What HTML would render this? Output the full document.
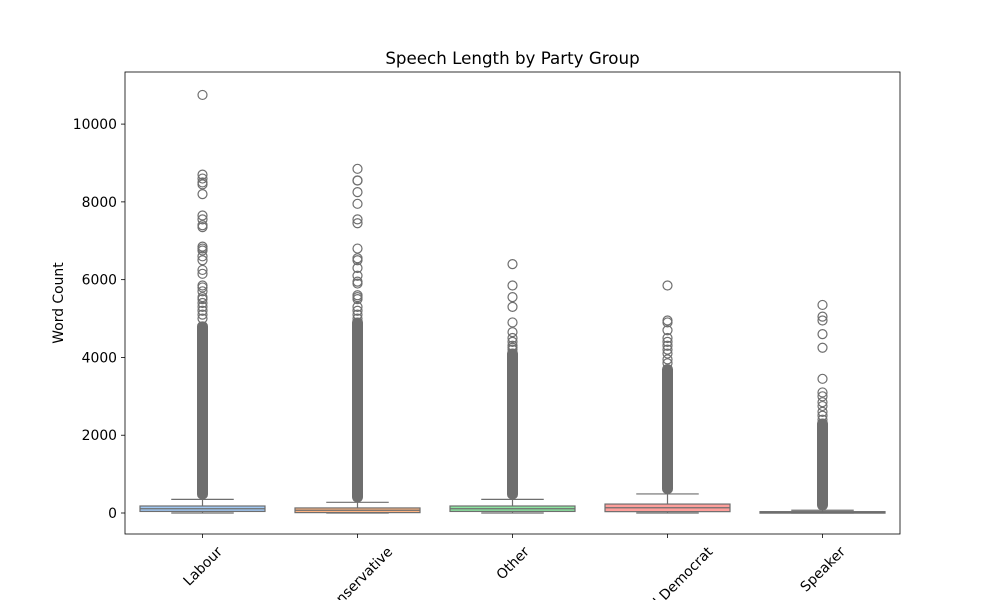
<!DOCTYPE html>
<html><head><meta charset="utf-8"><style>
html,body{margin:0;background:#fff;width:1000px;height:600px;overflow:hidden;}
svg{display:block;overflow:hidden;font-family:"DejaVu Sans","Liberation Sans",sans-serif;}
</style></head><body>
<svg id="chart" width="1000" height="600"></svg>
<script>
const categories=["Labour","Conservative","Other","Liberal Democrat","Speaker"];
const colors=["#a1c9f4","#ffb482","#8de5a1","#ff9f9b","#d0bbff"];
const q1=[40,10,40,35,0];
const medians=[110,70,110,135,10];
const q3=[180,130,180,230,35];
const whiskLow=[0,0,0,0,0];
const whiskHigh=[350,275,350,490,70];
const denseTop=[4800,4900,4100,3700,2300];
const outliers=[
 [10750,8700,8600,8500,8450,8200,7650,7550,7400,7350,6850,6800,6750,6600,6500,6250,6150,5850,5800,5700,5550,5500,5400,5300,5200,5100,5000],
 [8850,8550,8550,8250,7950,7550,7450,6800,6550,6500,6300,6100,5950,5900,5600,5550,5500,5300,5200,5100,5000],
 [6400,5850,5550,5300,4900,4650,4500,4400,4300,4250,4200],
 [5850,4950,4900,4700,4500,4400,4300,4200,4100,3950,3850],
 [5350,5050,4950,4600,4250,3450,3100,3000,2850,2750,2600,2500,2400]
];
const yTicks=[0,2000,4000,6000,8000,10000];

const svg=document.getElementById('chart');
const NS='http://www.w3.org/2000/svg';
const L=125,R=900,T=72,B=534;
const y=v=>513-v*0.03889;
const x=i=>L+(R-L)/categories.length*(i+0.5);
const bw=125;
function mk(tag,attrs,parent){const e=document.createElementNS(NS,tag);for(const k in attrs)e.setAttribute(k,attrs[k]);(parent||svg).appendChild(e);return e;}

const title=mk('text',{x:512.5,y:64,'text-anchor':'middle','font-size':16.7,fill:'#000'});
title.textContent='Speech Length by Party Group';



const yl=mk('text',{x:0,y:0,'text-anchor':'middle','font-size':13.9,transform:'translate(63,303) rotate(-90)'});
yl.textContent='Word Count';



yTicks.forEach(t=>{
 const g=mk('g',{});
 
 
 mk('line',{x1:L-4,x2:L,y1:y(t),y2:y(t),stroke:'#000','stroke-width':0.8},g);
 const tx=mk('text',{x:L-8,y:y(t)+5,'text-anchor':'end','font-size':13.9},g);
 tx.textContent=t;
});

categories.forEach((c,i)=>{
 const cx=x(i);
 const g=mk('g',{});
 
 
 const gray='#6e6e6e';
 mk('line',{x1:cx,x2:cx,y1:y(q3[i]),y2:y(whiskHigh[i]),stroke:gray,'stroke-width':1.2},g);
 mk('line',{x1:cx,x2:cx,y1:y(q1[i]),y2:y(whiskLow[i]),stroke:gray,'stroke-width':1.2},g);
 mk('line',{x1:cx-bw/4,x2:cx+bw/4,y1:y(whiskHigh[i]),y2:y(whiskHigh[i]),stroke:gray,'stroke-width':1.2},g);
 mk('line',{x1:cx-bw/4,x2:cx+bw/4,y1:y(whiskLow[i]),y2:y(whiskLow[i]),stroke:gray,'stroke-width':1.2},g);
 const top=y(denseTop[i]),bot=y(whiskHigh[i]);
 mk('rect',{x:cx-5.5,y:top-5,width:11,height:bot-top+5,rx:5,fill:gray},g);
 const by=y(q3[i]),bh=Math.max(y(q1[i])-y(q3[i]),1.5);
 mk('rect',{x:cx-bw/2,y:by,width:bw,height:bh,fill:colors[i],stroke:gray,'stroke-width':1.2},g);
 mk('line',{x1:cx-bw/2,x2:cx+bw/2,y1:y(medians[i]),y2:y(medians[i]),stroke:gray,'stroke-width':1.2},g);
 outliers[i].forEach(v=>{
  const o=mk('circle',{cx:cx,cy:y(v),r:4.5,fill:'none',stroke:gray,'stroke-width':1.2},g);
  
  
 });
 mk('line',{x1:cx,x2:cx,y1:B,y2:B+4,stroke:'#000','stroke-width':0.8},g);
 const lt=mk('text',{x:cx,y:0,'text-anchor':'middle','font-size':13.9});
 lt.textContent=c;
 
 
 const w=lt.getComputedTextLength();
 const cy=544+(w+14)*0.354;
 lt.setAttribute('y',cy+5);
 lt.setAttribute('transform',`rotate(-45 ${cx} ${cy})`);
});

const frame=mk('rect',{x:L,y:T,width:R-L,height:B-T,fill:'none',stroke:'#000','stroke-width':0.8});


</script>
</body></html>
